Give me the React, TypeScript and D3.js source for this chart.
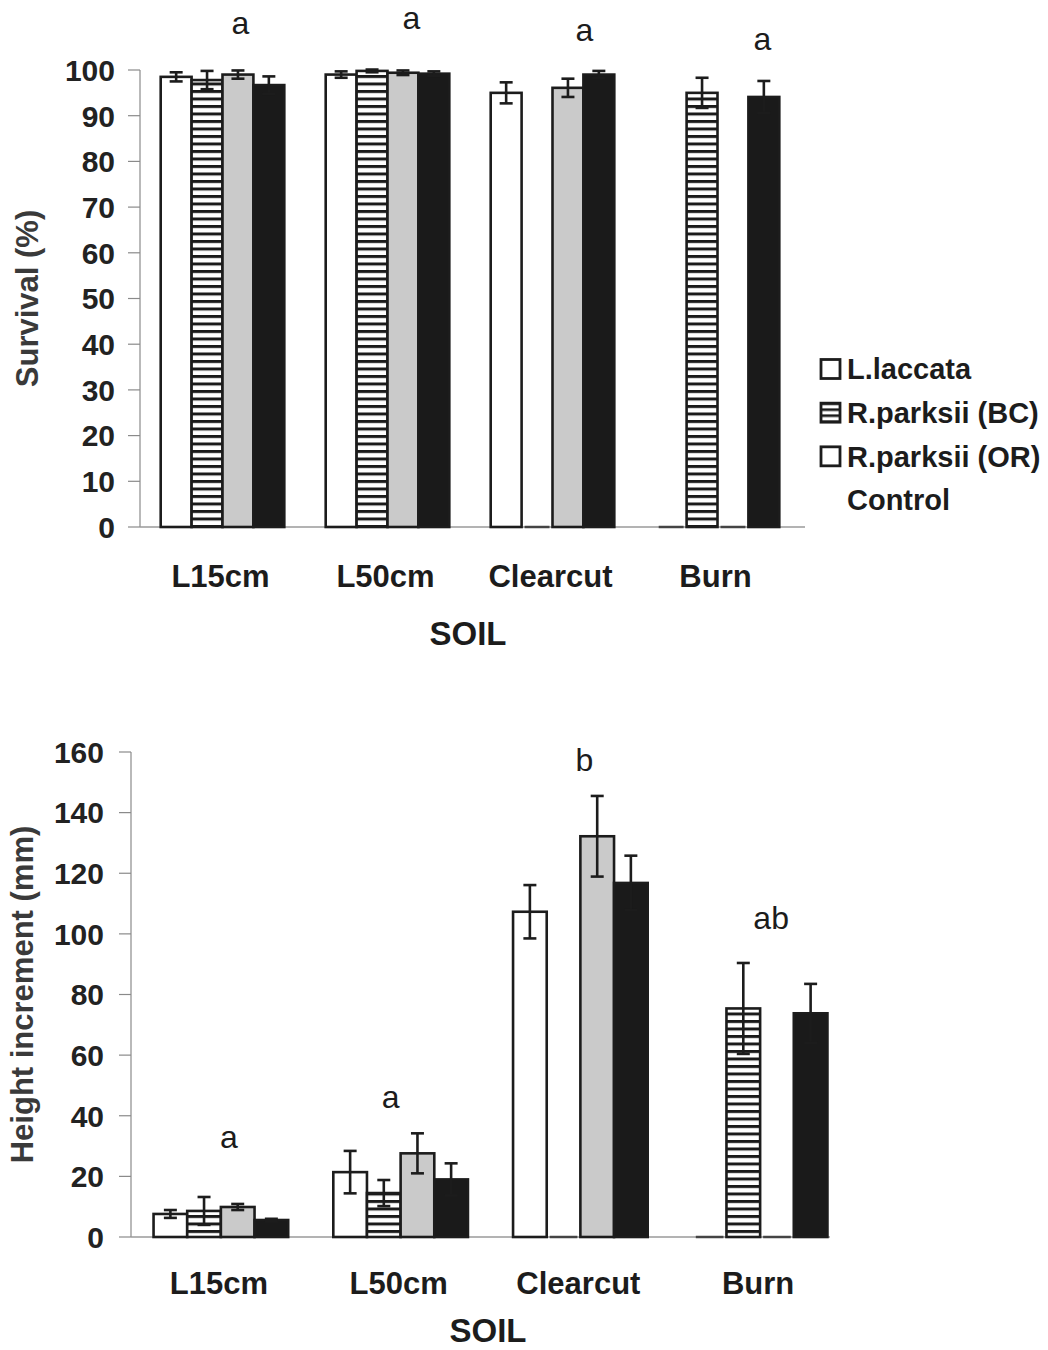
import React from "react";
import * as d3 from "d3";

const groups = ["L15cm", "L50cm", "Clearcut", "Burn"];
const series = ["L.laccata", "R.parksii (BC)", "R.parksii (OR)", "Control"];

// Survival (%) — rows per group, columns per series
const survival = [
  [98.5, 97.8, 99.0, 96.7],
  [99.0, 99.8, 99.4, 99.2],
  [95.0, 0, 96.1, 99.0],
  [0, 95.0, 0, 94.1],
];
const survivalErr = [
  [1.0, 2.0, 0.9, 1.9],
  [0.7, 0.3, 0.5, 0.5],
  [2.3, 0, 2.0, 0.8],
  [0, 3.3, 0, 3.5],
];
const survivalLetters = ["a", "a", "a", "a"];
const survivalLetterY = [110.5, 111.4, 108.8, 107.0];
const survivalTicks = [0, 10, 20, 30, 40, 50, 60, 70, 80, 90, 100];

// Height increment (mm)
const height = [
  [7.6, 8.6, 9.9, 5.6],
  [21.4, 14.5, 27.6, 19.0],
  [107.3, 0, 132.2, 116.8],
  [0, 75.4, 0, 73.8],
];
const heightErr = [
  [1.3, 4.6, 1.0, 0.4],
  [7.0, 4.3, 6.6, 5.3],
  [8.8, 0, 13.3, 9.0],
  [0, 15.0, 0, 9.7],
];
const heightLetters = ["a", "a", "b", "ab"];
const heightLetterY = [33.3, 46.5, 157.4, 105.3];
const heightTicks = [0, 20, 40, 60, 80, 100, 120, 140, 160];

const FONT = "'Liberation Sans', Arial, Helvetica, sans-serif";
const INK = "#1c1c1c";
const fills = ["#ffffff", "url(#hatch)", "#cacaca", "#1a1a1a"];

type PanelProps = {
  values: number[][];
  errs: number[][];
  letters: string[];
  letterY: number[];
  letterDx: number[];
  ticks: number[];
  yMax: number;
  x0: number;
  x1: number;
  yTop: number;
  yBottom: number;
  yLabel: string;
  yLabelX: number;
  tickLabelX: number;
  catLabelY: number;
  soilY: number;
  soilX: number;
  baselineEnd: number;
};

function Panel(p: PanelProps) {
  const x = d3.scaleBand<string>().domain(groups).range([p.x0, p.x1]);
  const inner = d3
    .scaleBand<string>()
    .domain(series)
    .range([0, x.bandwidth()])
    .paddingInner(0)
    .paddingOuter(0.67);
  const y = d3.scaleLinear().domain([0, p.yMax]).range([p.yBottom, p.yTop]);
  const bw = inner.bandwidth();
  const cap = 13;
  return (
    <g>
      {/* axis */}
      <line x1={p.x0} x2={p.x0} y1={y(p.yMax)} y2={y(0)} stroke="#8a8a8a" strokeWidth={1.2} />
      <line x1={p.x0} x2={p.baselineEnd} y1={y(0)} y2={y(0)} stroke="#9a9a9a" strokeWidth={1.4} />
      {p.ticks.map((t) => (
        <g key={t}>
          <line x1={p.x0 - 12} x2={p.x0} y1={y(t)} y2={y(t)} stroke="#8a8a8a" strokeWidth={1.2} />
          <text
            x={p.tickLabelX}
            y={y(t)}
            dy="0.36em"
            textAnchor="end"
            fontFamily={FONT}
            fontWeight="bold"
            fontSize={30}
            fill="#222"
          >
            {t}
          </text>
        </g>
      ))}
      <text
        transform={`translate(${p.yLabelX},${(y(0) + y(p.yMax)) / 2}) rotate(-90)`}
        textAnchor="middle"
        dy="0.36em"
        fontFamily={FONT}
        fontWeight="bold"
        fontSize={31}
        fill="#3a3a3a"
      >
        {p.yLabel}
      </text>
      {/* bars */}
      {groups.map((g, gi) => (
        <g key={g}>
          {series.map((s, si) => {
            const v = p.values[gi][si];
            const bx = (x(g) as number) + (inner(s) as number);
            if (v === 0) {
              return (
                <line
                  key={s}
                  x1={bx + 3}
                  x2={bx + bw - 3}
                  y1={y(0)}
                  y2={y(0)}
                  stroke="#444"
                  strokeWidth={2.5}
                />
              );
            }
            return (
              <rect
                key={s}
                x={bx}
                y={y(v)}
                width={bw}
                height={y(0) - y(v)}
                fill={fills[si]}
                stroke={INK}
                strokeWidth={2.6}
              />
            );
          })}
          {series.map((s, si) => {
            const v = p.values[gi][si];
            const e = p.errs[gi][si];
            if (v === 0 || e === 0) return null;
            const cx = (x(g) as number) + (inner(s) as number) + bw / 2;
            return (
              <g key={s} stroke={INK} strokeWidth={2.6}>
                <line x1={cx} x2={cx} y1={y(v + e)} y2={y(v - e)} />
                <line x1={cx - cap / 2} x2={cx + cap / 2} y1={y(v + e)} y2={y(v + e)} />
                <line x1={cx - cap / 2} x2={cx + cap / 2} y1={y(v - e)} y2={y(v - e)} />
              </g>
            );
          })}
          <text
            x={(x(g) as number) + x.bandwidth() / 2 + p.letterDx[gi]}
            y={y(p.letterY[gi])}
            dy="0.36em"
            textAnchor="middle"
            fontFamily={FONT}
            fontSize={32}
            fill={INK}
          >
            {p.letters[gi]}
          </text>
          <text
            x={(x(g) as number) + x.bandwidth() / 2 - 2}
            y={p.catLabelY}
            dy="0.36em"
            textAnchor="middle"
            fontFamily={FONT}
            fontWeight="bold"
            fontSize={31}
            fill={INK}
          >
            {g}
          </text>
        </g>
      ))}
      <text
        x={p.soilX}
        y={p.soilY}
        dy="0.36em"
        textAnchor="middle"
        fontFamily={FONT}
        fontWeight="bold"
        fontSize={33}
        fill={INK}
      >
        SOIL
      </text>
    </g>
  );
}

function Legend() {
  const items = series;
  const ys = d3.scalePoint<string>().domain(items).range([369, 500]);
  return (
    <g>
      {items.map((s, i) => {
        const cy = ys(s) as number;
        return (
          <g key={s}>
            {i < 3 && (
              <rect
                x={821}
                y={cy - 9.5}
                width={19}
                height={19}
                fill={i === 1 ? "url(#hatchSmall)" : "#fff"}
                stroke={INK}
                strokeWidth={2.8}
              />
            )}
            <text
              x={847}
              y={cy}
              dy="0.36em"
              fontFamily={FONT}
              fontWeight="bold"
              fontSize={29}
              fill={INK}
            >
              {s}
            </text>
          </g>
        );
      })}
    </g>
  );
}

export default function App() {
  return (
    <svg
      width={1048}
      height={1350}
      style={{ position: "absolute", left: 0, top: 0, background: "#fff" }}
    >
      <defs>
        <pattern id="hatch" patternUnits="userSpaceOnUse" width={10} height={7.5}>
          <rect width={10} height={7.5} fill="#fff" />
          <rect y={0} width={10} height={3} fill="#1a1a1a" />
        </pattern>
        <pattern id="hatchSmall" patternUnits="userSpaceOnUse" x={0} y={0.4} width={10} height={6}>
          <rect width={10} height={6} fill="#fff" />
          <rect y={0} width={10} height={2.6} fill="#1a1a1a" />
        </pattern>
      </defs>
      <rect width={1048} height={1350} fill="#fff" />
      <Panel
        values={survival}
        errs={survivalErr}
        letters={survivalLetters}
        letterY={survivalLetterY}
        letterDx={[18, 24, 32, 45]}
        ticks={survivalTicks}
        yMax={100}
        x0={140}
        x1={800}
        yTop={70}
        yBottom={527}
        yLabel="Survival (%)"
        yLabelX={27}
        tickLabelX={115}
        catLabelY={576}
        soilY={633}
        soilX={468}
        baselineEnd={805}
      />
      <Legend />
      <Panel
        values={height}
        errs={heightErr}
        letters={heightLetters}
        letterY={heightLetterY}
        letterDx={[8, -10, 4, 11]}
        ticks={heightTicks}
        yMax={160}
        x0={131}
        x1={850}
        yTop={752}
        yBottom={1237}
        yLabel="Height increment (mm)"
        yLabelX={22}
        tickLabelX={104}
        catLabelY={1283}
        soilY={1330}
        soilX={488}
        baselineEnd={830}
      />
    </svg>
  );
}
